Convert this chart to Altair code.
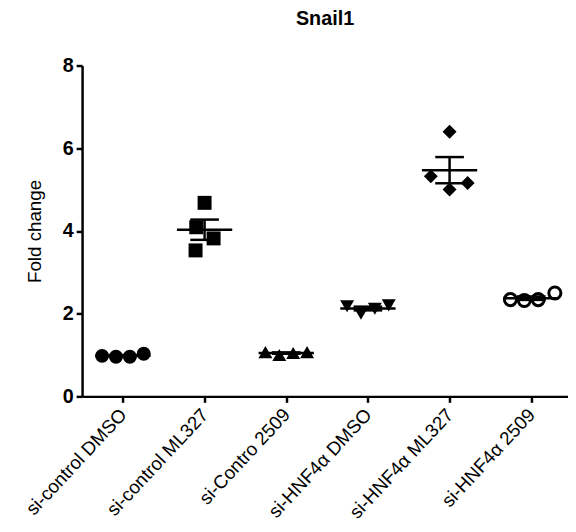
import altair as alt
import pandas as pd
import numpy as np

# ---- data ----
groups = ["si-control DMSO", "si-control ML327", "si-Contro 2509",
          "si-HNF4α DMSO", "si-HNF4α ML327", "si-HNF4α 2509"]
shapes = ["circle", "square", "triangle-up", "triangle-down", "diamond", "circle"]
hollow = [False, False, False, False, False, True]

values = [
    [0.98, 0.96, 0.96, 1.03],
    [4.68, 4.09, 3.82, 3.53],
    [1.07, 1.00, 1.05, 1.07],
    [2.18, 2.00, 2.12, 2.20],
    [6.40, 5.32, 5.00, 5.16],
    [2.34, 2.32, 2.34, 2.50],
]
# horizontal scatter slot of each replicate (column-scatter spreading)
slots = [
    [-1.5, -0.5, 0.5, 1.5],
    [0.0, -0.6, 0.65, -0.65],
    [-1.5, -0.5, 0.5, 1.5],
    [-1.5, -0.5, 0.5, 1.5],
    [0.0, -1.35, 0.0, 1.3],
    [-1.5, -0.5, 0.5, 1.7],
]
SLOT = 0.17  # category units per slot

rows = []
for gi, g in enumerate(groups):
    for v, s in zip(values[gi], slots[gi]):
        rows.append({"group": g, "gi": gi, "x": gi + s * SLOT, "value": v,
                     "hollow": hollow[gi]})
pts = pd.DataFrame(rows)

stats = []
for gi, g in enumerate(groups):
    arr = np.array(values[gi])
    m = arr.mean()
    sem = arr.std(ddof=1) / np.sqrt(len(arr))
    stats.append({"group": g, "gi": gi, "mean": m, "lo": m - sem, "hi": m + sem})
st = pd.DataFrame(stats)

label_js = "[" + ",".join("'" + g + "'" for g in groups) + "][datum.value]"

xscale = alt.Scale(domain=[-0.5, 5.45], nice=False, zero=False)
yscale = alt.Scale(domain=[0, 8], nice=False)

xaxis = alt.Axis(values=list(range(len(groups))), labelExpr=label_js, title=None,
                 labelAngle=-47, labelFontSize=19, labelFont="Liberation Sans",
                 labelColor="black", grid=False, tickSize=6, tickWidth=2.5,
                 tickColor="black", domainColor="black", domainWidth=2.5,
                 labelPadding=9, labelOverlap=False, labelBound=False, labelFlush=False)
yaxis = alt.Axis(values=[0, 2, 4, 6, 8], title="Fold change", titleFontSize=19,
                 titleFontWeight="normal", titleFont="Liberation Sans",
                 titleColor="black", titlePadding=18,
                 labelFontSize=20, labelFontWeight="bold", labelFont="Liberation Sans",
                 labelColor="black", grid=False, tickSize=6, tickWidth=2.5,
                 tickColor="black", domainColor="black", domainWidth=2.5,
                 labelPadding=3)

base_pts = alt.Chart(pts)

filled_pts = base_pts.transform_filter("!datum.hollow").mark_point(
    filled=True, color="black", size=200, opacity=1
).encode(
    x=alt.X("x:Q", scale=xscale, axis=xaxis),
    y=alt.Y("value:Q", scale=yscale, axis=yaxis),
    shape=alt.Shape("group:N", scale=alt.Scale(domain=groups, range=shapes), legend=None),
)

open_pts = base_pts.transform_filter("datum.hollow").mark_point(
    filled=True, fill="white", stroke="black", strokeWidth=3, size=150, opacity=1
).encode(
    x=alt.X("x:Q", scale=xscale),
    y=alt.Y("value:Q", scale=yscale),
    shape=alt.Shape("group:N", scale=alt.Scale(domain=groups, range=shapes), legend=None),
)

base_st = alt.Chart(st)
mean_line = base_st.mark_tick(orient="horizontal", size=56, thickness=2.5, color="black", opacity=1).encode(
    x=alt.X("gi:Q", scale=xscale), y=alt.Y("mean:Q", scale=yscale))
cap_hi = base_st.mark_tick(orient="horizontal", size=29, thickness=2.5, color="black", opacity=1).encode(
    x=alt.X("gi:Q", scale=xscale), y=alt.Y("hi:Q", scale=yscale))
cap_lo = base_st.mark_tick(orient="horizontal", size=29, thickness=2.5, color="black", opacity=1).encode(
    x=alt.X("gi:Q", scale=xscale), y=alt.Y("lo:Q", scale=yscale))
vline = base_st.mark_rule(strokeWidth=2.5, color="black").encode(
    x=alt.X("gi:Q", scale=xscale), y=alt.Y("lo:Q", scale=yscale), y2="hi:Q")

chart = alt.layer(filled_pts, open_pts, vline, mean_line, cap_hi, cap_lo).properties(
    width=492, height=335,
    title=alt.TitleParams("Snail1", fontSize=20, fontWeight="bold", font="Liberation Sans",
                          color="black", anchor="middle", offset=27),
    autosize=alt.AutoSizeParams(type="none"),
    padding={"left": 75, "top": 55, "right": 0, "bottom": 130},
).configure_view(stroke=None)

chart.save("out.html", embed_options={"renderer": "svg", "actions": False})
